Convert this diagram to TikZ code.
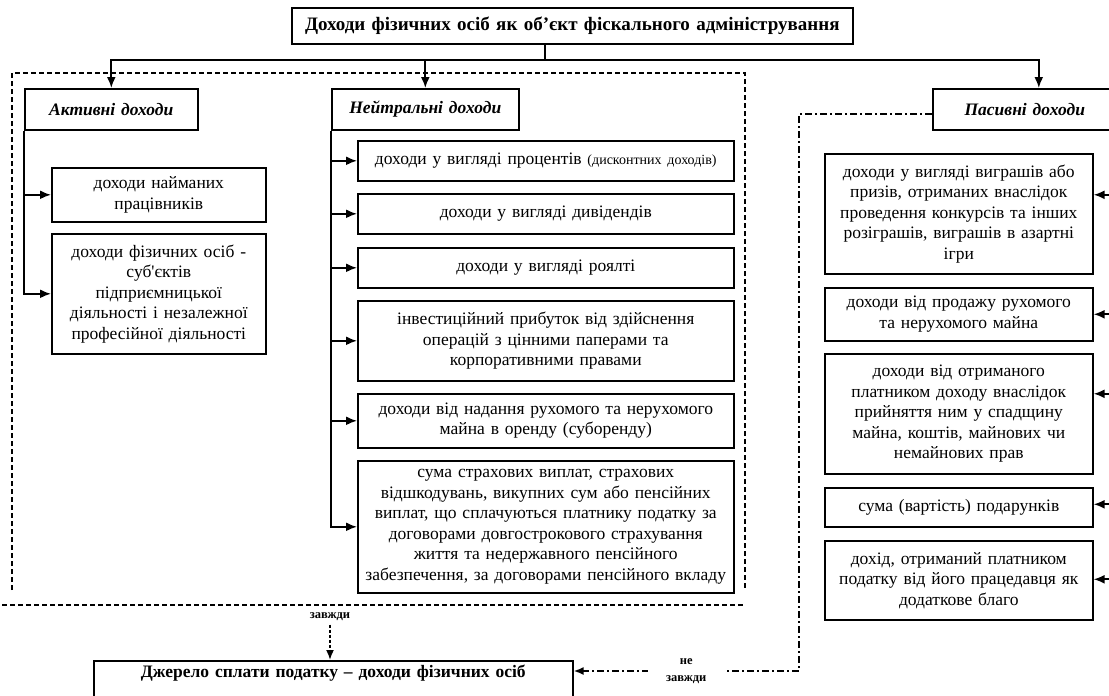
\documentclass[tikz,border=0pt]{standalone}
\usepackage{fontspec}
\setmainfont{Liberation Serif}
\usetikzlibrary{arrows.meta}

\newcommand{\bodyfont}{\fontsize{17.5}{20.5}\selectfont}
\newcommand{\titlefont}{\fontsize{19}{22}\selectfont\bfseries}
\newcommand{\smallfont}{\fontsize{14}{16}\selectfont}
\newcommand{\labelfont}{\fontsize{12.5}{17.5}\selectfont\bfseries}

\tikzset{
  bx/.style={draw, line width=1.6pt, align=center, anchor=north west, inner sep=0pt, font=\bodyfont},
  conn/.style={line width=1.7pt},
  arr/.style={line width=1.9pt, -{Latex[length=11pt,width=9pt]}},
  dashframe/.style={line width=1.8pt, dash pattern=on 5pt off 3pt},
  ddline/.style={line width=1.8pt, dash pattern=on 7pt off 3pt on 2pt off 3pt},
}

\begin{document}
\begin{tikzpicture}[x=1pt,y=-1pt]
  \useasboundingbox (0,0) rectangle (1109,696);

  % top level
  \node[bx, text width=561pt, minimum height=36pt, font=\titlefont] (Title) at (291,7)
    {Доходи фізичних осіб як об’єкт фіскального адміністрування};
  \node[bx, text width=173pt, minimum height=41pt] (Akt) at (24,88) {\textbf{\textit{Активні доходи}}};
  \node[bx, text width=187pt, minimum height=41pt] (Nej) at (331,88) {\textbf{\textit{Нейтральні доходи}}};
  \node[bx, text width=184pt, minimum height=41pt] (Pas) at (932,88) {\textbf{\textit{Пасивні доходи}}};
  \coordinate (hub) at (545,60);

  % active incomes
  \node[bx, text width=214pt, minimum height=54pt] (A1) at (51,167) {доходи найманих\\працівників};
  \node[bx, text width=214pt, minimum height=120pt] (A2) at (51,233)
    {доходи фізичних осіб -\\суб\textquotesingle єктів\\підприємницької\\діяльності і незалежної\\професійної діяльності};

  % neutral incomes
  \node[bx, text width=376pt, minimum height=40pt] (N1) at (357,140)
    {доходи у вигляді процентів {\smallfont (дисконтних доходів)}};
  \node[bx, text width=376pt, minimum height=40pt] (N2) at (357,193) {доходи у вигляді дивідендів};
  \node[bx, text width=376pt, minimum height=40pt] (N3) at (357,247) {доходи у вигляді роялті};
  \node[bx, text width=376pt, minimum height=80pt] (N4) at (357,300)
    {інвестиційний прибуток від здійснення\\операцій з цінними паперами та\\корпоративними правами};
  \node[bx, text width=376pt, minimum height=54pt] (N5) at (357,393)
    {доходи від надання рухомого та нерухомого\\майна в оренду (суборенду)};
  \node[bx, text width=376pt, minimum height=132pt] (N6) at (357,460)
    {сума страхових виплат, страхових\\відшкодувань, викупних сум або пенсійних\\виплат, що сплачуються платнику податку за\\договорами довгострокового страхування\\життя та недержавного пенсійного\\забезпечення, за договорами пенсійного вкладу};

  % passive incomes
  \node[bx, text width=268pt, minimum height=120pt] (P1) at (824,153)
    {доходи у вигляді виграшів або\\призів, отриманих внаслідок\\проведення конкурсів та інших\\розіграшів, виграшів в азартні\\ігри};
  \node[bx, text width=268pt, minimum height=53pt] (P2) at (824,287)
    {доходи від продажу рухомого\\та нерухомого майна};
  \node[bx, text width=268pt, minimum height=120pt] (P3) at (824,353)
    {доходи від отриманого\\платником доходу внаслідок\\прийняття ним у спадщину\\майна, коштів, майнових чи\\немайнових прав};
  \node[bx, text width=268pt, minimum height=39pt] (P4) at (824,487) {сума (вартість) подарунків};
  \node[bx, text width=268pt, minimum height=79pt] (P5) at (824,540)
    {дохід, отриманий платником\\податку від його працедавця як\\додаткове благо};

  % source of tax
  \node[bx, text width=479pt, text height=17pt, text depth=40pt] (Src) at (93,660)
    {\textbf{Джерело сплати податку – доходи фізичних осіб}};
  \node[font=\labelfont] (Zav) at (330,617) {завжди};
  \coordinate (nzc) at (799,671);

  % frame round active and neutral incomes
  \draw[dashframe] (12,590) -- (12,73) -- (745,73) -- (745,590);
  \draw[dashframe] (2,605) -- (745,605);

  % connectors
  \draw[conn] (Title.south -| hub) -- (hub);
  \draw[arr] (hub) -| (Akt.north);
  \draw[arr] (hub) -| (Nej.north);
  \draw[arr] (hub) -| ([xshift=14pt]Pas.north);

  \draw[arr] (Akt.south west) |- (A2.west);
  \draw[arr] (Akt.south west |- A1.west) -- (A1.west);

  \draw[arr] (Nej.south west) |- (N6.west);
  \foreach \n in {N1,N2,N3,N4,N5}
    \draw[arr] (Nej.south west |- \n.west) -- (\n.west);

  \foreach \n/\d in {P1/19,P2/0,P3/20,P4/3,P5/1}
    \draw[arr] ([xshift=25pt,yshift=\d pt]\n.east) -- ([yshift=\d pt]\n.east);

  \draw[conn, dash pattern=on 3pt off 2pt, -{Latex[length=10pt,width=8pt]}] (Zav.south) -- (Zav.south |- Src.north);
  \draw[ddline, -{Latex[length=10pt,width=8pt]}] ([yshift=-5pt]Pas.west) -| (nzc) -- (Src.east |- nzc)
    node[midway, fill=white, font=\labelfont, align=center, inner xsep=18pt, inner ysep=0pt] (Nezav) {не\\завжди};
\end{tikzpicture}
\end{document}
